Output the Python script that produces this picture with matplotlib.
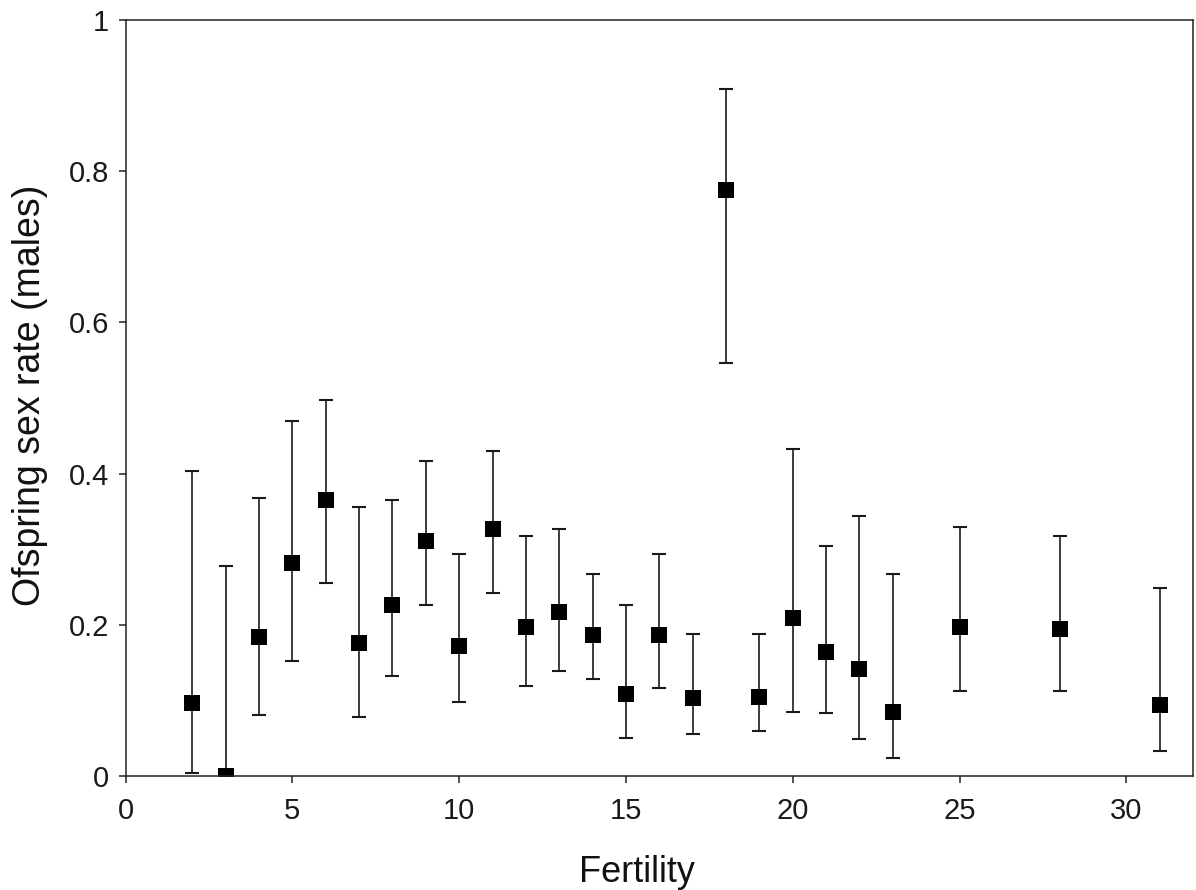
import matplotlib
matplotlib.use("Agg")
import matplotlib.pyplot as plt
from matplotlib.ticker import FuncFormatter, MultipleLocator

plt.rcParams['font.family'] = ['Liberation Sans', 'DejaVu Sans']

fertility = [2, 3, 4, 5, 6, 7, 8, 9, 10, 11, 12, 13, 14, 15, 16, 17, 18, 19, 20, 21, 22, 23, 25, 28, 31]
sex_rate = [0.097, 0.0, 0.184, 0.282, 0.365, 0.176, 0.226, 0.311, 0.172, 0.327, 0.197, 0.217, 0.186,
            0.109, 0.186, 0.103, 0.775, 0.105, 0.209, 0.164, 0.141, 0.085, 0.197, 0.195, 0.094]
ci_upper = [0.403, 0.278, 0.368, 0.470, 0.497, 0.356, 0.365, 0.417, 0.294, 0.430, 0.317, 0.327, 0.267,
            0.226, 0.294, 0.188, 0.909, 0.188, 0.432, 0.304, 0.344, 0.267, 0.329, 0.318, 0.249]
ci_lower = [0.004, 0.0, 0.081, 0.152, 0.255, 0.078, 0.132, 0.226, 0.098, 0.242, 0.119, 0.139, 0.128,
            0.051, 0.116, 0.056, 0.546, 0.060, 0.085, 0.083, 0.049, 0.024, 0.112, 0.112, 0.033]

err_low = [m - l for m, l in zip(sex_rate, ci_lower)]
err_high = [u - m for m, u in zip(sex_rate, ci_upper)]

fig = plt.figure(figsize=(11.96, 8.90), dpi=100)
ax = fig.add_axes([0.105, 0.128, 0.8925, 0.8495])

ax.errorbar(fertility, sex_rate, yerr=[err_low, err_high], fmt='none',
            ecolor='#1a1a1a', elinewidth=1.2, capsize=5, capthick=1.5)
ax.plot(fertility, sex_rate, linestyle='none', marker='s', color='black',
        markersize=11, markeredgewidth=0)

ax.set_xlim(0, 32)
ax.set_ylim(0, 1)
ax.xaxis.set_major_locator(MultipleLocator(5))
ax.yaxis.set_major_locator(MultipleLocator(0.2))
ax.yaxis.set_major_formatter(FuncFormatter(lambda v, p: f"{v:g}"))

for s in ax.spines.values():
    s.set_linewidth(1.1)
    s.set_color('#222222')

ax.tick_params(axis='both', direction='out', length=5, width=1.1, color='#222222',
               labelsize=21, labelcolor='#1a1a1a')
ax.tick_params(axis='x', pad=10)
ax.tick_params(axis='y', pad=7)

fig.text(637 / 1196, 1 - 872 / 890, 'Fertility', fontsize=26, ha='center', va='center', color='#111111')
fig.text(30 / 1196, 1 - 395 / 890, 'Ofspring sex rate (males)', fontsize=27, ha='center', va='center',
         rotation=90, color='#111111')

fig.savefig('out.png', dpi=100)
